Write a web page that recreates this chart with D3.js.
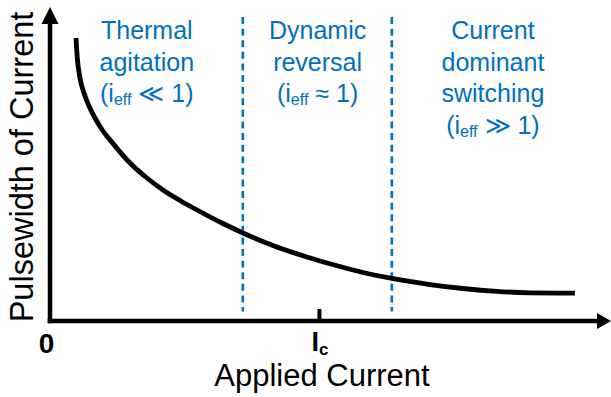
<!DOCTYPE html>
<html><head><meta charset="utf-8">
<script src="https://cdn.jsdelivr.net/npm/d3@7"></script>
<style>
html,body{margin:0;padding:0;background:#fff;}
svg{display:block;font-family:"Liberation Sans",Arial,sans-serif;}
</style></head>
<body>
<svg id="chart" width="611" height="397"></svg>
<script>
// Applied current in units of Ic
const currentX = [0.0967,0.1015,0.1115,0.1264,0.1450,0.1673,0.1970,0.2342,0.2974,0.3606,0.4201,0.4833,0.5465,0.6431,0.7175,0.8290,0.9554,1.0409,1.1636,1.2714,1.4126,1.5353,1.6617,1.7844,1.9517];
// Pulsewidth (arbitrary units, 0-100)
const pulseY   = [90.13,83.76,77.39,72.61,68.47,64.65,60.51,56.53,50.32,45.54,41.72,38.38,35.35,31.05,28.03,24.04,20.38,18.22,15.45,13.54,11.62,10.35,9.43,8.98,8.85];
const regionBounds = [0.717, 1.271];
const regionLabels = [
  {cx:0.36, lines:["Thermal","agitation"], rel:"≪"},
  {cx:0.995, lines:["Dynamic","reversal"], rel:"≈"},
  {cx:1.647, lines:["Current","dominant","switching"], rel:"≫"}
];
const tickLabels = ["0","I","c"];
const xTitle = "Applied Current";
const yTitle = "Pulsewidth of Current";

const blue = "#0070C0";
const svg = d3.select("#chart");
const x = d3.scaleLinear().domain([0, 2.086]).range([50, 611]);
const y = d3.scaleLinear().domain([0, 100]).range([321, 7]);

// dashed region boundaries
svg.selectAll("line.bound").data(regionBounds).join("line")
  .attr("class","bound")
  .attr("x1", d=>x(d)).attr("x2", d=>x(d))
  .attr("y1", y(96.8)).attr("y2", y(3))
  .attr("stroke", blue).attr("stroke-width", 2.6)
  .attr("stroke-dasharray", "7,4.6");

// region labels
const lh = 31.5;
regionLabels.forEach(r => {
  const g = svg.append("text").attr("text-anchor","middle")
    .attr("font-size", 25).attr("fill", blue);
  r.lines.forEach((t,i) => {
    g.append("tspan").attr("x", x(r.cx)).attr("y", 39 + i*lh).text(t);
  });
  const yy = 39 + r.lines.length*lh;
  g.append("tspan").attr("x", x(r.cx)).attr("y", yy).text("(i");
  g.append("tspan").attr("font-size", 16).attr("dy", 3).text("eff");
  g.append("tspan").attr("dy", -3).text(" " + r.rel + " 1)");
});

// curve
const pts = currentX.map((d,i)=>[d, pulseY[i]]);
svg.append("path").datum(pts)
  .attr("fill","none").attr("stroke","#000").attr("stroke-width",4.8)
  .attr("d", d3.line().x(d=>x(d[0])).y(d=>y(d[1])).curve(d3.curveMonotoneX));

// x axis (tick at Ic)
const xAxis = d3.axisBottom(x).tickValues([1]).tickSizeInner(-12).tickSizeOuter(0).tickFormat("");
const gx = svg.append("g").attr("transform", `translate(0,${y(0)})`).call(xAxis);
gx.select(".domain").remove();
gx.selectAll(".tick line").attr("stroke","#000").attr("stroke-width",4);

// axis lines and arrows
svg.append("line").attr("x1", x(0)-2.3).attr("x2", x(2.086)-12)
  .attr("y1", y(0)).attr("y2", y(0)).attr("stroke","#000").attr("stroke-width",4.5);
svg.append("line").attr("x1", x(0)).attr("x2", x(0))
  .attr("y1", y(0)+2.2).attr("y2", y(100)+14).attr("stroke","#000").attr("stroke-width",4.5);
svg.append("path").attr("fill","#000")
  .attr("d", `M${x(2.086)},${y(0)} L${x(2.086)-14},${y(0)-8} L${x(2.086)-14},${y(0)+8} Z`);
svg.append("path").attr("fill","#000")
  .attr("d", `M${x(0)},${y(100)} L${x(0)-8.5},${y(100)+17} L${x(0)+8.5},${y(100)+17} Z`);

// tick labels
svg.append("text").attr("x", x(0)-3.5).attr("y", 353).attr("text-anchor","middle")
  .attr("font-size", 28).attr("font-weight","bold").text(tickLabels[0]);
const ic = svg.append("text").attr("x", x(1)+1).attr("y", 351).attr("text-anchor","middle")
  .attr("font-size", 27).attr("font-weight","bold");
ic.append("tspan").text(tickLabels[1]);
ic.append("tspan").attr("font-size", 17).attr("dy", 4).text(tickLabels[2]);

// axis titles
svg.append("text").attr("x", 322).attr("y", 386).attr("text-anchor","middle")
  .attr("font-size", 31).attr("fill","#000").text(xTitle);
svg.append("text").attr("transform", "translate(33,167) rotate(-90)")
  .attr("text-anchor","middle").attr("font-size", 32.5).attr("fill","#000").text(yTitle);
</script>
</body></html>
